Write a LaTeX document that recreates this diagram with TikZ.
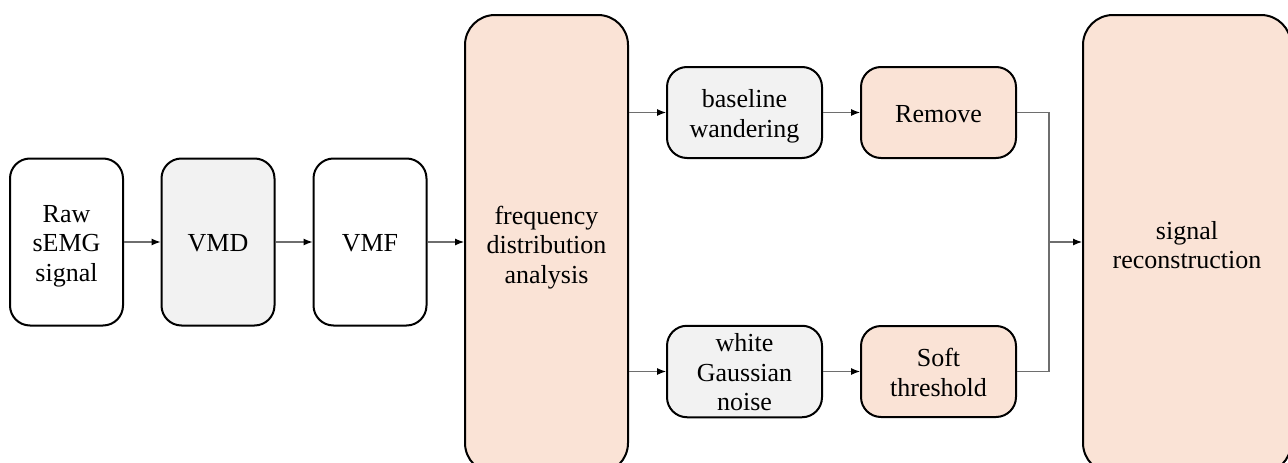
\documentclass[tikz,border=0pt]{standalone}
\usepackage{fontspec}
\setmainfont{Liberation Serif}
\usetikzlibrary{arrows.meta}
\definecolor{peach}{HTML}{FAE3D6}
\definecolor{lgray}{HTML}{F2F2F2}
\definecolor{conncol}{HTML}{6E6E6E}
\newcommand\tstr{\rule{0pt}{26pt}}
\newcommand\bstr{\rule[-6.5pt]{0pt}{0pt}}
\tikzset{
  box/.style={draw=black, line width=2pt, rounded corners=20pt, inner sep=0pt, align=center,
    font=\fontsize{26}{29.5}\selectfont},
  small/.style={box, minimum width=113pt, minimum height=167pt},
  mid/.style={box, minimum width=155pt, minimum height=91pt},
  big/.style={box, rounded corners=30pt},
  conn/.style={draw=conncol, line width=1.1pt},
  arr/.style={conn, -{Latex[length=9pt,width=7pt,color=black]}},
}
\begin{document}
\begin{tikzpicture}[x=1pt,y=-1pt]
\useasboundingbox (0,0) rectangle (1288,463);
\node[small, fill=white] (raw) at (66.5,242) {\tstr Raw\\sEMG\\signal\bstr};
\node[small, fill=lgray] (vmd) at (218,242) {\tstr VMD\bstr};
\node[small, fill=white] (vmf) at (370,242) {\tstr VMF\bstr};
\node[big, fill=peach, minimum width=163pt, minimum height=458pt] (freq) at (546.5,244) {\tstr frequency\\distribution\\analysis\bstr};
\node[mid, fill=lgray] (base) at (744.5,112.5) {\tstr baseline\\wandering\bstr};
\node[mid, fill=peach] (rem) at (938.5,112.5) {\tstr Remove\bstr};
\node[mid, fill=lgray] (noise) at (744.5,371.5) {\tstr white\\Gaussian\\noise\bstr};
\node[mid, fill=peach] (soft) at (938.5,371.5) {\tstr Soft\\threshold\bstr};
\node[big, fill=peach, minimum width=208pt, minimum height=458pt] (rec) at (1187,244) {\tstr signal\\reconstruction\bstr};
\coordinate (J) at (1049,242);
\draw[arr] (raw.east |- 0,242) -- (vmd.west |- 0,242);
\draw[arr] (vmd.east |- 0,242) -- (vmf.west |- 0,242);
\draw[arr] (vmf.east |- 0,242) -- (freq.west |- 0,242);
\draw[arr] (freq.east |- base) -- (base.west);
\draw[arr] (freq.east |- noise) -- (noise.west);
\draw[arr] (base.east) -- (rem.west);
\draw[arr] (noise.east) -- (soft.west);
\draw[conn] (rem.east) -| (J);
\draw[conn] (soft.east) -| (J);
\draw[arr] (J) -- (rec.west |- J);
\end{tikzpicture}
\end{document}
